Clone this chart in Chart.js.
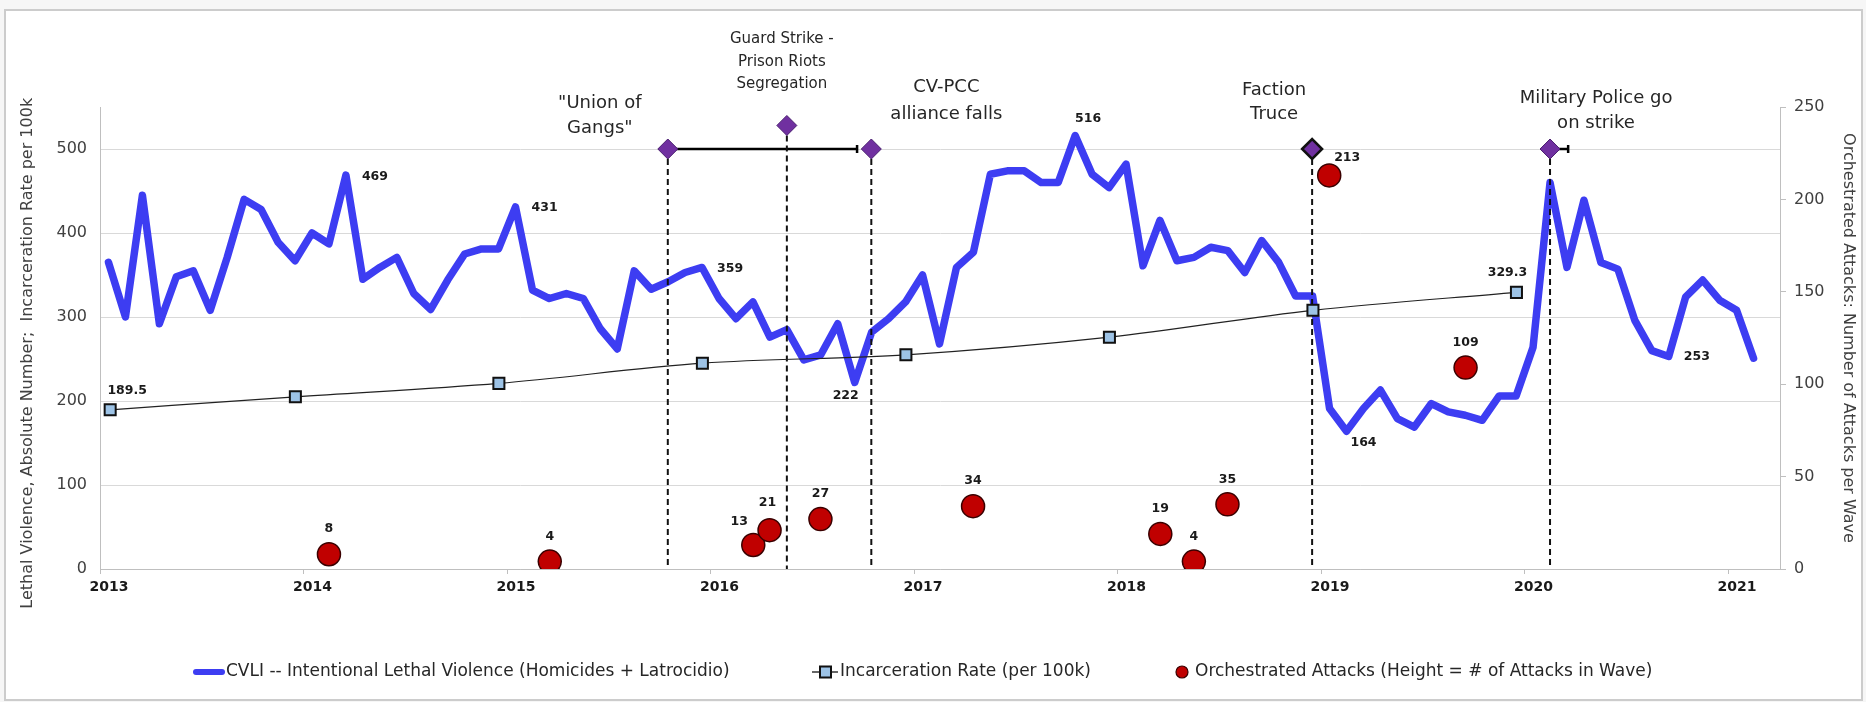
<!DOCTYPE html>
<html>
<head>
<meta charset="utf-8">
<script src="https://cdn.jsdelivr.net/npm/chart.js@4.4.1/dist/chart.umd.min.js"></script>
<style>
html,body{margin:0;padding:0;background:#f6f6f6;}
#wrap{position:relative;width:1866px;height:702px;overflow:hidden;}
#frame{position:absolute;left:4px;top:9px;width:1855px;height:688px;border:2px solid #cccccc;background:#ffffff;}
#c{position:absolute;left:0;top:0;}
</style>
</head>
<body>
<div id="wrap"><div id="frame"></div><canvas id="c" width="1866" height="702"></canvas></div>
<script>
// ---------------- DATA ----------------
const cvliStartYear = 2013; // monthly series, Jan 2013 .. Feb 2021
const cvli = [
  365,300,445,292,348,355,308,371,440,428,389,367,
  400,387,469,345,359,371,328,309,344,375,381,381,
  431,332,322,328,322,286,262,355,333,342,353,359,
  322,298,318,276,285,249,255,292,222,282,298,318,
  350,268,359,377,470,474,474,460,460,516,470,454,
  482,361,415,367,371,383,379,353,391,365,325,325,
  191,164,191,213,179,169,197,187,183,177,206,206,
  264,460,359,439,365,357,296,260,253,324,344,320,
  308,251
];
const incarcDates = [2013.05, 2013.96, 2014.96, 2015.96, 2016.96, 2017.96, 2018.96, 2019.96];
const incarcRate  = [189.5, 205, 221, 245, 255, 276, 308, 329.3];

const attackDates = [2014.125, 2015.21, 2016.21, 2016.29, 2016.54, 2017.29, 2018.21, 2018.375, 2018.54, 2019.04, 2019.71];
const attacks     = [8, 4, 13, 21, 27, 34, 19, 4, 35, 213, 109];

const eventDates  = [2015.79, 2016.375, 2016.79, 2018.956, 2020.125];
const eventLevel  = [500, 528, 500, 500, 500];
const eventLabels = [
  ['"Union of', 'Gangs"'],
  ['Guard Strike -', 'Prison Riots', 'Segregation'],
  ['CV-PCC', 'alliance falls'],
  ['Faction', 'Truce'],
  ['Military Police go', 'on strike']
];
const rangeStart = [2015.79, 2020.125];
const rangeEnd   = [2016.72, 2020.214];
const rangeLevel = [500, 500];

const yearTicks  = [2013, 2014, 2015, 2016, 2017, 2018, 2019, 2020, 2021];
const leftTicks  = [0, 100, 200, 300, 400, 500];
const rightTicks = [0, 50, 100, 150, 200, 250];

const seriesNames = [
  'CVLI -- Intentional Lethal Violence (Homicides + Latrocidio)',
  'Incarceration Rate (per 100k)',
  'Orchestrated Attacks (Height = # of Attacks in Wave)'
];
const leftTitle  = 'Lethal Violence, Absolute Number;  Incarceration Rate per 100k';
const rightTitle = 'Orchestrated Attacks: Number of Attacks per Wave';

// ---------------- STYLE ----------------
const FONT = '"DejaVu Sans", "Noto Sans", sans-serif';
const BLUE = '#3d3df2';
const RED = '#c00000';
const PURPLE = '#7030a0';
const SQUARE = '#9dc3e6';
const TEXT = '#262626';

// label placement specs (pixel offsets from the data point)
const cvliLabelSpec = [
  {i:14, dx:16, dy:2, align:'left'},
  {i:24, dx:16, dy:1, align:'left'},
  {i:35, dx:15, dy:1, align:'left'},
  {i:44, dx:-9, dy:13, align:'center'},
  {i:57, dx:13, dy:-17, align:'center'},
  {i:73, dx:17, dy:12, align:'center'},
  {i:92, dx:15, dy:0, align:'left'}
];
const incarcLabelSpec = [
  {i:0, dx:17, dy:-19, align:'center', text:'189.5'},
  {i:7, dx:-9, dy:-20, align:'center', text:'329.3'}
];
const attackLabelOffsets = {2: [-14, -23], 3: [-2, -27], 9: [18, -18]};
const attackLabelSpec = attacks.map((v, i) => {
  const o = attackLabelOffsets[i] || [0, -25];
  return {i, dx: o[0], dy: o[1]};
});
const eventTextSpec = [
  {dx:-68, dy:-46, lh:25, size:18},
  {dx:-5,  dy:-86, lh:22.5, size:15},
  {dx:75,  dy:-62, lh:27, size:18},
  {dx:-38, dy:-59, lh:24, size:18},
  {dx:46,  dy:-51, lh:25, size:18}
];

// ---------------- DATASETS ----------------
const cvliPoints = cvli.map((v, i) => ({x: cvliStartYear + (i + 0.5) / 12, y: v}));
const incarcPoints = incarcRate.map((v, i) => ({x: incarcDates[i], y: v}));
const attackPoints = attacks.map((v, i) => ({x: attackDates[i], y: v}));
const eventPoints = eventDates.map((d, i) => ({x: d, y: eventLevel[i]}));

const datasets = [];
datasets.push({
  type: 'scatter', label: 'events', data: eventPoints, yAxisID: 'y', order: 0,
  pointStyle: 'rectRot', pointRadius: 10,
  backgroundColor: PURPLE,
  borderColor: eventDates.map((d, i) => i === 3 ? '#111111' : '#4a1f70'),
  borderWidth: eventDates.map((d, i) => i === 3 ? 2.5 : 1)
});
datasets.push({
  type: 'scatter', label: seriesNames[2], data: attackPoints, yAxisID: 'y2', order: 1,
  pointStyle: 'circle', pointRadius: 11.5, backgroundColor: RED, borderColor: '#3a0000', borderWidth: 1.5
});
datasets.push({
  type: 'line', label: seriesNames[1], data: incarcPoints, yAxisID: 'y', order: 2,
  borderColor: '#222222', borderWidth: 1.2, cubicInterpolationMode: 'monotone',
  pointStyle: 'rect', pointRadius: 7.8, backgroundColor: SQUARE, pointBackgroundColor: SQUARE,
  pointBorderColor: '#111111', pointBorderWidth: 2
});
eventDates.forEach((d, i) => {
  datasets.push({
    type: 'line', label: 'vline' + i, data: [{x: d, y: eventLevel[i]}, {x: d, y: 0}], yAxisID: 'y', order: 3,
    borderColor: '#111111', borderWidth: 2, borderDash: [6, 4], pointRadius: 0
  });
});
rangeStart.forEach((d, i) => {
  datasets.push({
    type: 'line', label: 'range' + i, data: [{x: d, y: rangeLevel[i]}, {x: rangeEnd[i], y: rangeLevel[i]}], yAxisID: 'y', order: 3,
    borderColor: '#000000', borderWidth: 2.5,
    pointStyle: 'line', pointRotation: 90, pointRadius: [0, 4], pointBorderColor: '#000000', pointBorderWidth: 2.5
  });
});
datasets.push({
  type: 'line', label: seriesNames[0], data: cvliPoints, yAxisID: 'y', order: 4,
  borderColor: BLUE, borderWidth: 7.5, pointRadius: 0, tension: 0,
  borderJoinStyle: 'round', borderCapStyle: 'round'
});

// ---------------- PLUGINS ----------------
const textPlugin = {
  id: 'textPlugin',
  afterDatasetsDraw(chart) {
    const ctx = chart.ctx;
    const xs = chart.scales.x, ys = chart.scales.y, ys2 = chart.scales.y2;
    ctx.save();
    ctx.fillStyle = '#1a1a1a';
    ctx.textBaseline = 'middle';
    ctx.font = 'bold 12.5px ' + FONT;
    cvliLabelSpec.forEach(s => {
      const px = xs.getPixelForValue(cvliPoints[s.i].x), py = ys.getPixelForValue(cvli[s.i]);
      ctx.textAlign = s.align;
      ctx.fillText(String(cvli[s.i]), px + s.dx, py + s.dy);
    });
    incarcLabelSpec.forEach(s => {
      const px = xs.getPixelForValue(incarcDates[s.i]), py = ys.getPixelForValue(incarcRate[s.i]);
      ctx.textAlign = s.align;
      ctx.fillText(s.text, px + s.dx, py + s.dy);
    });
    attackLabelSpec.forEach(s => {
      const px = xs.getPixelForValue(attackDates[s.i]), py = ys2.getPixelForValue(attacks[s.i]);
      ctx.textAlign = 'center';
      ctx.fillText(String(attacks[s.i]), px + s.dx, py + s.dy);
    });
    // event annotations
    ctx.fillStyle = TEXT;
    eventLabels.forEach((lines, i) => {
      const s = eventTextSpec[i];
      const px = xs.getPixelForValue(eventDates[i]), py = ys.getPixelForValue(eventLevel[i]);
      ctx.font = s.size + 'px ' + FONT;
      ctx.textAlign = 'center';
      lines.forEach((t, k) => ctx.fillText(t, px + s.dx, py + s.dy + k * s.lh));
    });
    ctx.restore();
  },
  afterDraw(chart) {
    // legend
    const ctx = chart.ctx;
    const ly = 672;
    ctx.save();
    ctx.font = '17px ' + FONT;
    ctx.fillStyle = TEXT;
    ctx.textAlign = 'left';
    ctx.textBaseline = 'middle';
    // item 1
    ctx.strokeStyle = BLUE; ctx.lineWidth = 6; ctx.lineCap = 'round';
    ctx.beginPath(); ctx.moveTo(196, ly); ctx.lineTo(222, ly); ctx.stroke();
    ctx.fillText(seriesNames[0], 226, ly);
    // item 2
    ctx.strokeStyle = '#333333'; ctx.lineWidth = 1.5; ctx.lineCap = 'butt';
    ctx.beginPath(); ctx.moveTo(812, ly); ctx.lineTo(838, ly); ctx.stroke();
    ctx.fillStyle = SQUARE; ctx.strokeStyle = '#111111'; ctx.lineWidth = 2;
    ctx.beginPath(); ctx.rect(820, ly - 5.5, 11, 11); ctx.fill(); ctx.stroke();
    ctx.fillStyle = TEXT;
    ctx.fillText(seriesNames[1], 840, ly);
    // item 3
    ctx.fillStyle = RED; ctx.strokeStyle = '#3a0000'; ctx.lineWidth = 1.2;
    ctx.beginPath(); ctx.arc(1182, ly, 6, 0, Math.PI * 2); ctx.fill(); ctx.stroke();
    ctx.fillStyle = TEXT;
    ctx.fillText(seriesNames[2], 1195, ly);
    ctx.restore();
  }
};

// ---------------- CHART ----------------
new Chart(document.getElementById('c'), {
  type: 'line',
  data: {datasets},
  options: {
    responsive: false,
    animation: false,
    events: [],
    layout: {padding: {top: 107, bottom: 93, left: 0, right: 0}},
    plugins: {legend: {display: false}, tooltip: {enabled: false}},
    scales: {
      x: {
        type: 'linear', min: 2013, max: 2021.255,
        afterBuildTicks: s => { s.ticks = yearTicks.map(v => ({value: v})); },
        afterFit: s => { s.height = 40; },
        ticks: {callback: v => String(v), font: {family: FONT, size: 14, weight: 'bold'}, color: '#1a1a1a', padding: 5, labelOffset: 9, maxRotation: 0},
        grid: {drawOnChartArea: false, drawTicks: true, tickLength: 5, color: '#bfbfbf'},
        border: {color: '#bfbfbf', width: 1}
      },
      y: {
        type: 'linear', position: 'left', min: 0, max: 550,
        afterBuildTicks: s => { s.ticks = leftTicks.map(v => ({value: v})); },
        afterFit: s => { s.width = 100; },
        ticks: {font: {family: FONT, size: 16}, color: '#404040', padding: 13},
        grid: {color: '#d9d9d9', drawTicks: false},
        border: {color: '#bfbfbf', width: 1},
        title: {display: true, text: leftTitle + '\u00a0\u00a0\u00a0\u00a0\u00a0\u00a0', font: {family: FONT, size: 16}, color: '#404040', padding: {top: 18, bottom: 0}}
      },
      y2: {
        type: 'linear', position: 'right', min: 0, max: 250,
        afterBuildTicks: s => { s.ticks = rightTicks.map(v => ({value: v})); },
        afterFit: s => { s.width = 86; },
        ticks: {font: {family: FONT, size: 16}, color: '#404040', padding: 8},
        grid: {drawOnChartArea: false, drawTicks: true, tickLength: 6, color: '#bfbfbf'},
        border: {color: '#bfbfbf', width: 1},
        title: {display: true, text: rightTitle, font: {family: FONT, size: 16}, color: '#404040', padding: {top: 8, bottom: 0}}
      }
    }
  },
  plugins: [textPlugin]
});
</script>
</body>
</html>
